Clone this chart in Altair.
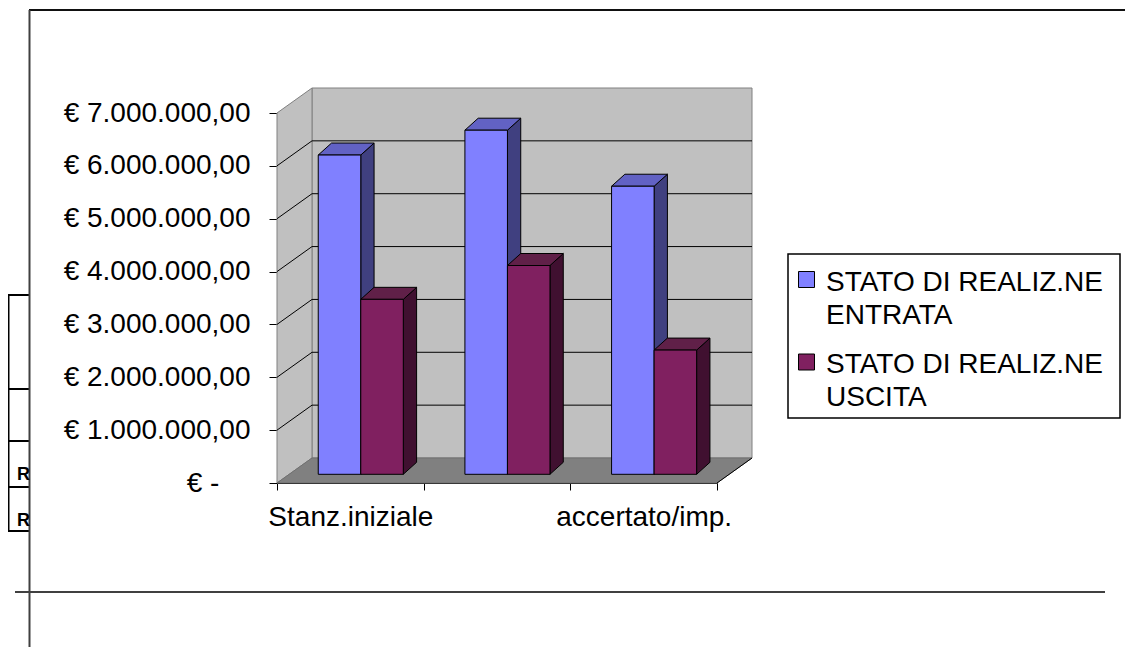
import json
import altair as alt
import pandas as pd

# ---------------- data ----------------
categories = ["Stanz.iniziale", "Stanz.definitivo", "accertato/imp."]
shown_labels = ["Stanz.iniziale", "", "accertato/imp."]  # middle label skipped in the original
series = ["STATO DI REALIZ.NE ENTRATA", "STATO DI REALIZ.NE USCITA"]
entrata = [6040000, 6510000, 5450000]
uscita = [3310000, 3950000, 2350000]
y_ticks = [0, 1000000, 2000000, 3000000, 4000000, 5000000, 6000000, 7000000]

# ---------------- styles ----------------
front_colors = ["#8080FF", "#802060"]
side_colors = ["#404080", "#401030"]
top_colors = ["#6262C4", "#602048"]
FONT = "Liberation Sans"
FS = 28

W, H = 440, 370
N = len(categories)
YMAX = y_ticks[-1]
ux = W / N          # px per category
uy = H / YMAX       # px per euro

WDX, WDY = 35 / ux, 25 / uy          # wall depth
BAR0, BW = 0.198, 0.29               # bar start within band, bar width
BDX0, BDY0 = 12.2 / ux, 8.7 / uy     # bar depth position
BDX, BDY = 13.3 / ux, 12.0 / uy      # bar depth

OX, OY = 277, 113   # page position of the plot origin


def px(x):
    return x - OX


def py(y):
    return y - OY


xs = alt.Scale(domain=[0, N], nice=False, zero=False)
ys = alt.Scale(domain=[0, YMAX], nice=False, zero=False)

xaxis = alt.Axis(
    values=list(range(N + 1)), title=None, grid=False,
    domainColor="black", domainWidth=1, tickColor="black", tickWidth=1, tickSize=7,
    labelExpr=f"datum.value < {N} ? {json.dumps(shown_labels)}[datum.value] : ''",
    labelOffset=ux / 2, labelPadding=13, labelFont=FONT, labelFontSize=FS,
    labelColor="black", labelOverlap=False, labelBound=False, labelFlush=False,
    labelAlign="center", labelBaseline="top", labelLimit=0,
)
pad = "\u00a0" * 4 + "\u200b"
yaxis = alt.Axis(
    values=y_ticks, title=None, grid=False,
    domainColor="black", domainWidth=1, tickColor="black", tickWidth=1, tickSize=8,
    labelPadding=19, labelFont=FONT, labelFontSize=FS, labelColor="black",
    labelOverlap=False, labelBound=False, labelFlush=False, labelLimit=0,
    labelExpr=("datum.value == 0 ? '€ -" + pad + "' : '€ ' + "
               "replace(replace(replace(format(datum.value, ',.2f'), regexp(',', 'g'), '#'), "
               "regexp('[.]', 'g'), ','), regexp('#', 'g'), '.')"),
)


def X(f):
    return alt.X(f, type="quantitative", scale=xs, axis=xaxis, stack=None)


def Y(f):
    return alt.Y(f, type="quantitative", scale=ys, axis=yaxis, stack=None)


rows = []
for j, (s, vals) in enumerate(zip(series, [entrata, uscita])):
    for i, (c, v) in enumerate(zip(categories, vals)):
        rows.append(dict(cat=c, idx=i, series=s, sidx=j, value=v))
bars = pd.DataFrame(rows)

# ---------------- walls & floor ----------------
k01 = pd.DataFrame({"k": [0, 1]})
one = pd.DataFrame({"d": [0]})

back_wall = alt.Chart(one).transform_calculate(
    bx=f"{WDX}", bx2=f"{N} + {WDX}", by=f"{WDY}", by2=f"{YMAX} + {WDY}"
).mark_rect(fill="#C0C0C0", stroke="#808080", strokeWidth=1).encode(
    x=X("bx:Q"), x2=alt.X2("bx2:Q"), y=Y("by:Q"), y2=alt.Y2("by2:Q"))

left_wall = alt.Chart(k01).transform_calculate(
    wx=f"datum.k * {WDX}", wy=f"{YMAX} + datum.k * {WDY}", wy2=f"datum.k * {WDY}"
).mark_area(orient="vertical", fill="#C0C0C0", stroke="#808080", strokeWidth=1).encode(
    x=X("wx:Q"), y=Y("wy:Q"), y2=alt.Y2("wy2:Q"))

floor = alt.Chart(k01).transform_calculate(
    fy=f"datum.k * {WDY}", fx=f"datum.k * {WDX}", fx2=f"{N} + datum.k * {WDX}"
).mark_area(orient="horizontal", fill="#808080", stroke="#707070", strokeWidth=1).encode(
    y=Y("fy:Q"), x=X("fx:Q"), x2=alt.X2("fx2:Q"))

floor_edge = alt.Chart(one).transform_calculate(
    ex=f"{N}", ex2=f"{N} + {WDX}", ey="0", ey2=f"{WDY}"
).mark_rule(color="black", strokeWidth=1).encode(
    x=X("ex:Q"), x2=alt.X2("ex2:Q"), y=Y("ey:Q"), y2=alt.Y2("ey2:Q"))

grid_df = pd.DataFrame({"v": y_ticks[1:-1]})
back_grid = alt.Chart(grid_df).transform_calculate(
    gx=f"{WDX}", gx2=f"{N} + {WDX}", gy=f"datum.v + {WDY}"
).mark_rule(color="black", strokeWidth=1).encode(
    x=X("gx:Q"), x2=alt.X2("gx2:Q"), y=Y("gy:Q"))
side_grid = alt.Chart(grid_df).transform_calculate(
    gx="0", gx2=f"{WDX}", gy="datum.v", gy2=f"datum.v + {WDY}"
).mark_rule(color="black", strokeWidth=1).encode(
    x=X("gx:Q"), x2=alt.X2("gx2:Q"), y=Y("gy:Q"), y2=alt.Y2("gy2:Q"))

# ---------------- bars ----------------
geo = alt.Chart(bars).transform_calculate(
    xl=f"datum.idx + {BAR0} + datum.sidx * {BW} + {BDX0}"
).transform_calculate(
    xr=f"datum.xl + {BW}", yb=f"{BDY0}", yt=f"datum.value + {BDY0}",
    bid="datum.cat + '|' + datum.series",
)
geo_k = geo.transform_calculate(k="[0, 1]").transform_flatten(["k"])

side = geo_k.transform_calculate(
    sx=f"datum.xr + datum.k * {BDX}",
    sy=f"datum.yt + datum.k * {BDY}",
    sy2=f"datum.yb + datum.k * {BDY}",
).mark_area(orient="vertical", stroke="black", strokeWidth=1, opacity=1).encode(
    x=X("sx:Q"), y=Y("sy:Q"), y2=alt.Y2("sy2:Q"),
    color=alt.Color("series:N", scale=alt.Scale(domain=series, range=side_colors), legend=None),
    detail="bid:N",
)

top = geo_k.transform_calculate(
    ty=f"datum.yt + datum.k * {BDY}",
    tx=f"datum.xl + datum.k * {BDX}",
    tx2=f"datum.xr + datum.k * {BDX}",
).mark_area(orient="horizontal", stroke="black", strokeWidth=1, opacity=1).encode(
    y=Y("ty:Q"), x=X("tx:Q"), x2=alt.X2("tx2:Q"),
    color=alt.Color("series:N", scale=alt.Scale(domain=series, range=top_colors), legend=None),
    detail="bid:N",
)

front = geo.mark_rect(stroke="black", strokeWidth=1, opacity=1).encode(
    x=X("xl:Q"), x2=alt.X2("xr:Q"),
    y=Y("yb:Q"), y2=alt.Y2("yt:Q"),
    color=alt.Color("series:N", scale=alt.Scale(domain=series, range=front_colors), legend=None),
)

# ---------------- page decorations ----------------
def hline(x1, x2, y, color="black", w=1.5):
    return alt.Chart(one).mark_rule(color=color, strokeWidth=w).encode(
        x=alt.value(px(x1)), x2=alt.value(px(x2)), y=alt.value(py(y)))


def vline(x, y1, y2, color="black", w=1.5):
    return alt.Chart(one).mark_rule(color=color, strokeWidth=w).encode(
        x=alt.value(px(x)), y=alt.value(py(y1)), y2=alt.value(py(y2)))


deco = [
    vline(8.5, 295, 531, w=2),
    hline(8, 29, 295, w=2), hline(8, 29, 389, w=2), hline(8, 29, 441, w=2),
    hline(8, 29, 487, w=2), hline(8, 29, 531, w=2),
    hline(15, 1105, 592, w=1.5),
    hline(29, 1133, 10, color="#111111", w=2),
    vline(29.5, 10, 655, color="#404040", w=2),
]
for yb_ in [480, 526]:
    deco.append(alt.Chart(one).mark_text(text="R", font=FONT, fontSize=18, fontWeight="bold",
                                          align="left", baseline="alphabetic", color="black").encode(
        x=alt.value(px(17)), y=alt.value(py(yb_))))

# ---------------- legend ----------------
legend = [alt.Chart(one).mark_rect(fill="white", stroke="black", strokeWidth=1.5).encode(
    x=alt.value(px(788)), x2=alt.value(px(1120)), y=alt.value(py(254)), y2=alt.value(py(418)))]
for i, s in enumerate(series):
    d = pd.DataFrame({"series": [s]})
    legend.append(alt.Chart(d).mark_square(size=256, filled=True, fill=front_colors[i], stroke="black",
                                           strokeWidth=1, opacity=1).encode(
        x=alt.value(px(806.5)), y=alt.value(py(279.5 + i * 82.5))))
    legend.append(alt.Chart(d).transform_calculate(
        t="replace(datum.series, 'REALIZ.NE ', 'REALIZ.NE|')"
    ).mark_text(align="left", baseline="alphabetic", lineBreak="|", lineHeight=33,
                font=FONT, fontSize=FS, color="black").encode(
        x=alt.value(px(826)), y=alt.value(py(291 + i * 82)), text="t:N"))

layers = deco + [back_wall, left_wall, floor, back_grid, side_grid, floor_edge,
                 side, top, front] + legend

chart = alt.layer(*layers).resolve_scale(color="independent").properties(
    width=W, height=H,
    autosize=alt.AutoSizeParams(type="none"),
    padding={"left": 269, "top": 105, "right": 408, "bottom": 164},
    background="white",
).configure_view(strokeWidth=0)

chart.save("out.html", embed_options={"renderer": "svg", "actions": False})
